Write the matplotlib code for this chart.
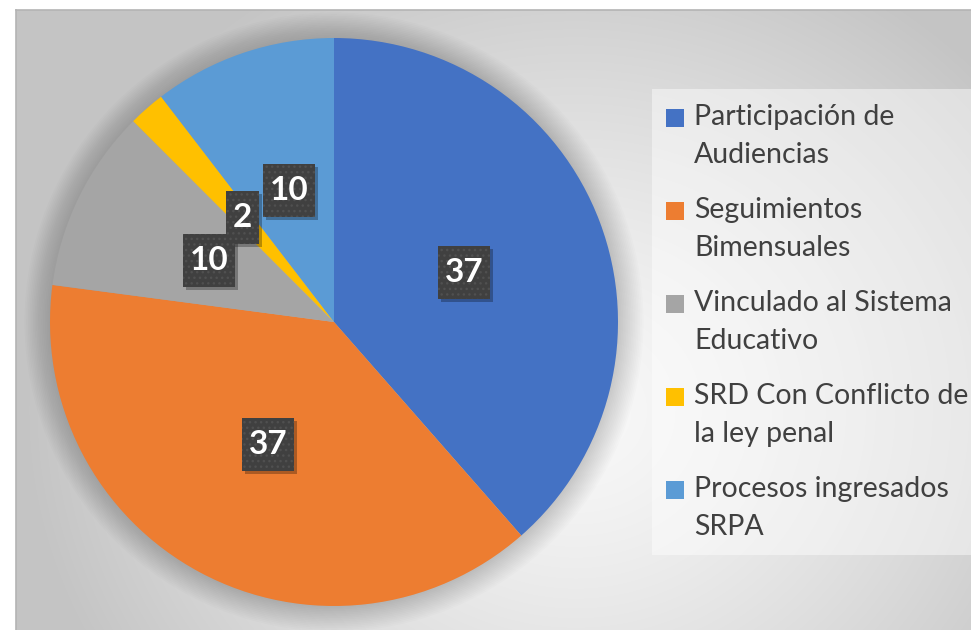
import matplotlib.pyplot as plt
from matplotlib.patches import Circle, Rectangle
from matplotlib.path import Path
import numpy as np

plt.rcParams['font.family'] = ['Lato', 'DejaVu Sans']

# data
categories = ['Participación de\nAudiencias', 'Seguimientos\nBimensuales',
              'Vinculado al Sistema\nEducativo', 'SRD Con Conflicto de\nla ley penal',
              'Procesos ingresados\nSRPA']
values = [37, 37, 10, 2, 10]
colors = ['#4472C4', '#ED7D31', '#A5A5A5', '#FFC000', '#5B9BD5']

W, H = 971, 630
fig = plt.figure(figsize=(W / 100, H / 100), dpi=100)
fig.patch.set_facecolor('white')

# gradient background of the chart area
bg = fig.add_axes([16 / W, 0, (W - 16) / W, (H - 10) / H])
yy, xx = np.mgrid[10:H, 16:W]
d = np.hypot(xx - 575, (yy - 410) * 1.1)
shade = np.clip(0.975 - 0.19 * (d / 520) ** 1.3, 0.77, 1)
bg.imshow(np.dstack([shade] * 3), aspect='auto', extent=(0, 1, 0, 1), origin='upper')
bg.set_xticks([])
bg.set_yticks([])
for s in ['right', 'bottom']:
    bg.spines[s].set_visible(False)
for s in ['top', 'left']:
    bg.spines[s].set_color('#b4b4b4')
    bg.spines[s].set_linewidth(1.2)

# pie axes: center (334, 322) px from top, radius 284 px
R = 284
lim = 1.15
cx, cy = 334, H - 322
ax = fig.add_axes([(cx - R * lim) / W, (cy - R * lim) / H, 2 * R * lim / W, 2 * R * lim / H])

# soft shadow behind the pie
for k in range(16):
    ax.add_patch(Circle((0, 0), 1 + 0.006 * k, color='black', alpha=0.012, lw=0, zorder=0))

total = sum(values)
wedges, _, autotexts = ax.pie(values, colors=colors, startangle=90, counterclock=False,
                              radius=1,
                              autopct=lambda p: f'{round(p * total / 100):d}',
                              pctdistance=0.49,
                              wedgeprops=dict(linewidth=0),
                              textprops=dict(color='white', fontsize=24, fontweight='bold'))
ax.set_xlim(-lim, lim)
ax.set_ylim(-lim, lim)
ax.set_aspect('equal')
ax.axis('off')


def label_box(x0, y0, width, height, mutation_size):
    # rectangle with more padding top/bottom than left/right
    px = 0.2 * mutation_size
    py = 0.36 * mutation_size
    x1, y1 = x0 - px, y0 - py
    x2, y2 = x0 + width + px, y0 + height + py
    return Path([(x1, y1), (x2, y1), (x2, y2), (x1, y2), (x1, y1)], closed=True)


for t in autotexts:
    t.set_ha('center')
    t.set_va('center')
    t.set_zorder(5)
    t.set_bbox(dict(boxstyle=label_box, facecolor='#404040', edgecolor='#505050',
                    linewidth=0, hatch='...'))

# drop shadows under the label boxes
fig.canvas.draw()
inv = ax.transData.inverted()
for t in autotexts:
    ext = t.get_bbox_patch().get_window_extent()
    (x1, y1), (x2, y2) = inv.transform([(ext.x0 + 3, ext.y0 - 3), (ext.x1 + 3, ext.y1 - 3)])
    ax.add_patch(Rectangle((x1, y1), x2 - x1, y2 - y1, facecolor='black', alpha=0.28,
                           lw=0, zorder=4))

# legend box
lg = fig.add_axes([0, 0, 1, 1], facecolor='none')
lg.set_xlim(0, W)
lg.set_ylim(H, 0)
lg.axis('off')
lg.add_patch(Rectangle((652, 89), W - 652, 466, facecolor='white', alpha=0.45, lw=0))
y0 = 117
for i, (lab, c) in enumerate(zip(categories, colors)):
    y = y0 + i * 93
    lg.add_patch(Rectangle((666, y - 8.5), 18, 18, facecolor=c, lw=0))
    for j, line in enumerate(lab.split('\n')):
        lg.text(694, y + j * 38, line, fontsize=20.5, color='#404040', va='center', ha='left')

fig.savefig('out.png', dpi=100)
